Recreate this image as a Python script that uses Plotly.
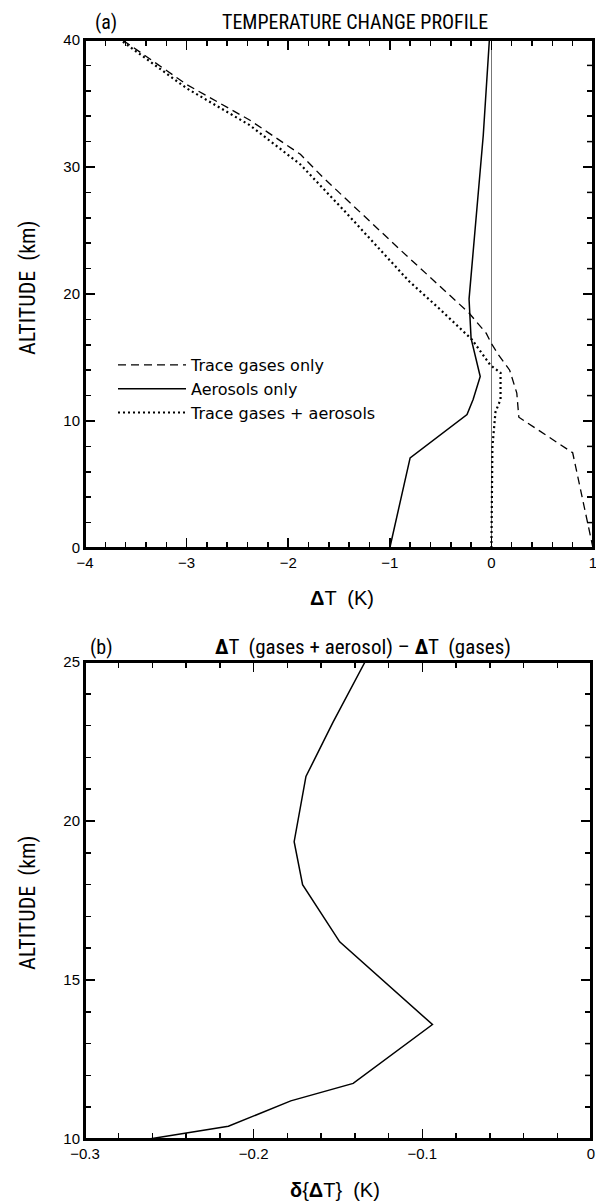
import plotly.graph_objects as go

# ---------------- Panel (a): temperature change profile ----------------
alt_gas = [0.0, 7.5, 10.3, 12.2, 14.0, 15.2, 16.1, 16.9, 18.5, 23.5, 29.2, 31.0, 33.7, 36.5, 40.0]
dT_gas = [1.0, 0.80, 0.27, 0.25, 0.18, 0.07, 0.0, -0.05, -0.22, -0.90, -1.66, -1.88, -2.38, -3.0, -3.63]

alt_aer = [0.0, 7.1, 10.5, 11.7, 13.5, 16.5, 19.6, 32.5, 40.0]
dT_aer = [-1.0, -0.80, -0.24, -0.18, -0.11, -0.20, -0.22, -0.08, -0.02]

alt_both = [0.0, 8.0, 10.7, 11.7, 13.8, 14.4, 16.4, 18.9, 21.0, 26.4, 30.2, 33.3, 36.2, 40.0]
dT_both = [0.0, 0.01, 0.04, 0.09, 0.09, -0.01, -0.19, -0.52, -0.81, -1.43, -1.88, -2.38, -3.0, -3.65]

# ---------------- Panel (b): difference ----------------
alt_diff = [10.0, 10.4, 11.2, 11.75, 13.6, 16.2, 18.0, 19.35, 21.4, 23.1, 25.0]
d_diff = [-0.262, -0.215, -0.178, -0.141, -0.094, -0.149, -0.171, -0.176, -0.169, -0.153, -0.134]

W, H = 596, 1203
COND = "Liberation Sans Narrow, Arial Narrow, Roboto Condensed, DejaVu Sans Condensed, Liberation Sans, sans-serif"
REG = "Liberation Sans, Arial, Helvetica, sans-serif"

fig = go.Figure()
fig.add_trace(go.Scatter(x=dT_gas, y=alt_gas, mode="lines", name="Trace gases only",
                         line=dict(color="black", width=1.3, dash="8px,5px"), xaxis="x", yaxis="y"))
fig.add_trace(go.Scatter(x=dT_aer, y=alt_aer, mode="lines", name="Aerosols only",
                         line=dict(color="black", width=1.5), xaxis="x", yaxis="y"))
fig.add_trace(go.Scatter(x=dT_both, y=alt_both, mode="lines", name="Trace gases + aerosols",
                         line=dict(color="black", width=2.2, dash="2px,3px"), xaxis="x", yaxis="y"))
fig.add_trace(go.Scatter(x=d_diff, y=alt_diff, mode="lines", showlegend=False,
                         line=dict(color="black", width=1.5), xaxis="x2", yaxis="y2"))

tickfont = dict(family=REG, size=15, color="black")


def ax(rng, dtick, mdtick, domain, anchor, **kw):
    d = dict(range=rng, dtick=dtick, tick0=0, domain=domain, anchor=anchor,
             automargin=False, ticklabeloverflow="allow",
             showline=True, linewidth=2, linecolor="black", mirror="ticks",
             ticks="inside", ticklen=10, tickwidth=1.5, tickcolor="black",
             showgrid=False, zeroline=False, tickfont=tickfont,
             minor=dict(dtick=mdtick, tick0=0, ticks="inside", ticklen=6, tickwidth=1.5,
                        tickcolor="black", showgrid=False))
    d.update(kw)
    return d


X1L, X1R, X2R = 85, 593, 591
xdom1 = [X1L / W, X1R / W]
xdom2 = [X1L / W, X2R / W]
ydom1 = [1 - 548 / H, 1 - 40 / H]
ydom2 = [1 - 1139 / H, 1 - 662 / H]

fig.update_layout(
    width=W, height=H,
    margin=dict(l=0, r=0, t=0, b=0, autoexpand=False),
    paper_bgcolor="white", plot_bgcolor="white",
    xaxis=ax([-4, 1], 1, 0.2, xdom1, "y",
             zeroline=True, zerolinecolor="#777777", zerolinewidth=1),
    yaxis=ax([0, 40], 10, 2, ydom1, "x"),
    xaxis2=ax([-0.3, 0], 0.1, 0.02, xdom2, "y2"),
    yaxis2=ax([10, 25], 5, 1, ydom2, "x2"),
    legend=dict(x=113 / W, y=1 - 348 / H, xanchor="left", yanchor="top",
                bgcolor="rgba(0,0,0,0)", font=dict(family="DejaVu Sans, sans-serif", size=16, color="black"),
                itemwidth=68),
    showlegend=True,
)

# plot frames (axis boxes)
for xr, yr in (("x domain", "y domain"), ("x2 domain", "y2 domain")):
    fig.add_shape(type="rect", xref=xr, yref=yr, x0=0, x1=1, y0=0, y1=1,
                  line=dict(color="black", width=2), fillcolor="rgba(0,0,0,0)", layer="above")

# right-hand frame ticks (pointing into the box), one per axis tick step
for xr, yr, (lo, hi), minor_step, major_step, width_px in (
        ("x domain", "y", (0, 40), 2, 10, X1R - X1L),
        ("x2 domain", "y2", (10, 25), 1, 5, X2R - X1L)):
    n = int(round((hi - lo) / minor_step))
    for i in range(1, n):
        v = lo + i * minor_step
        ln = 10 if abs(v / major_step - round(v / major_step)) < 1e-9 else 6
        fig.add_shape(type="line", xref=xr, yref=yr, x0=1, x1=1 - ln / width_px, y0=v, y1=v,
                      line=dict(color="black", width=1.5), layer="above")

annots = [
    dict(text="(a)", x=106 / W, y=1 - 22 / H, font=dict(family=COND, size=20)),
    dict(text="TEMPERATURE CHANGE PROFILE", x=355 / W, y=1 - 22 / H, font=dict(family=COND, size=20)),
    dict(text="ALTITUDE  (km)", x=28 / W, y=1 - 288 / H, textangle=-90, font=dict(family=COND, size=22)),
    dict(text="<b>Δ</b>T  (K)", x=342 / W, y=1 - 598 / H, font=dict(family=REG, size=20)),
    dict(text="(b)", x=101 / W, y=1 - 647 / H, font=dict(family=COND, size=20)),
    dict(text="<b>Δ</b>T  (gases + aerosol) – <b>Δ</b>T  (gases)", x=363 / W, y=1 - 647 / H,
         font=dict(family=COND, size=21)),
    dict(text="ALTITUDE  (km)", x=28 / W, y=1 - 903 / H, textangle=-90, font=dict(family=COND, size=22)),
    dict(text="<b>δ</b>{<b>Δ</b>T}  (K)", x=335 / W, y=1 - 1190 / H, font=dict(family=REG, size=20)),
]
for a in annots:
    a.update(xref="paper", yref="paper", showarrow=False, xanchor="center", yanchor="middle")
    a["font"]["color"] = "black"
fig.update_layout(annotations=annots)

fig.write_html("out.html", config={"displayModeBar": False, "staticPlot": True},
               post_script="document.body.style.margin='0';document.body.style.overflow='hidden';")
